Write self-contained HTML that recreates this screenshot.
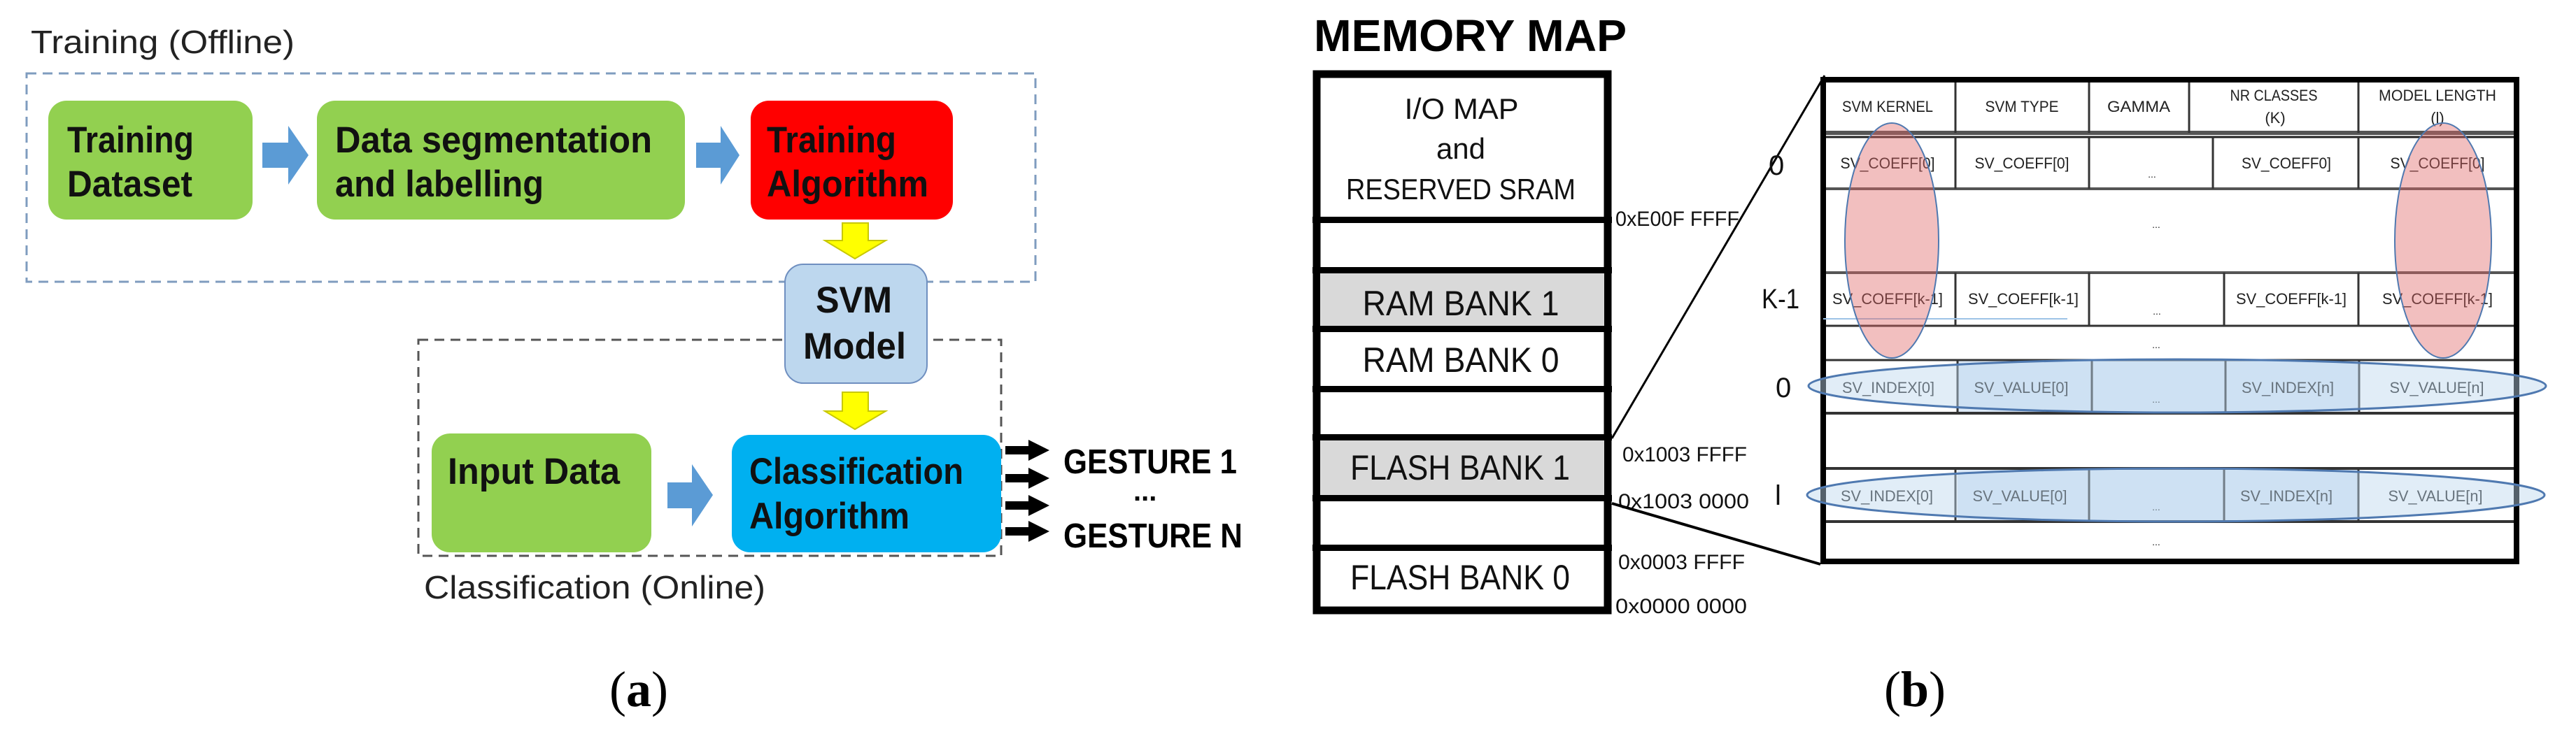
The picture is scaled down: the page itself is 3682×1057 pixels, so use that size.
<!DOCTYPE html>
<html><head><meta charset="utf-8"><style>
html,body{margin:0;padding:0;background:#fff;}
svg{display:block;}
text{font-family:"Liberation Sans Narrow","Liberation Sans",sans-serif;}
</style></head><body>
<svg width="3682" height="1057" viewBox="0 0 3682 1057" xmlns="http://www.w3.org/2000/svg">
<!-- ===== (a) ===== -->
<text x="44" y="76" font-size="46" fill="#222" textLength="377" lengthAdjust="spacingAndGlyphs">Training (Offline)</text>
<rect x="38" y="105" width="1442" height="298" fill="none" stroke="#7f9cbf" stroke-width="3" stroke-dasharray="14,9"/>
<rect x="598" y="486" width="833" height="309" fill="none" stroke="#555" stroke-width="3" stroke-dasharray="14,9"/>

<rect x="69" y="144" width="292" height="170" rx="26" fill="#92d050"/>
<text font-weight="bold" font-size="53" fill="#111"><tspan x="96" y="218" textLength="181" lengthAdjust="spacingAndGlyphs">Training</tspan></text>
<text x="96" y="281" font-weight="bold" font-size="53" fill="#111" textLength="179" lengthAdjust="spacingAndGlyphs">Dataset</text>

<polygon points="375,204 412,204 412,180 441,222 412,264 412,240 375,240" fill="#5b9bd5"/>
<rect x="453" y="144" width="526" height="170" rx="26" fill="#92d050"/>
<text x="479" y="218" font-weight="bold" font-size="53" fill="#111" textLength="453" lengthAdjust="spacingAndGlyphs">Data  segmentation</text>
<text x="479" y="281" font-weight="bold" font-size="53" fill="#111" textLength="298" lengthAdjust="spacingAndGlyphs">and labelling</text>

<polygon points="995,204 1030,204 1030,180 1057,222 1030,264 1030,240 995,240" fill="#5b9bd5"/>
<rect x="1073" y="144" width="289" height="170" rx="26" fill="#ff0000"/>
<text x="1096" y="218" font-weight="bold" font-size="53" fill="#111" textLength="185" lengthAdjust="spacingAndGlyphs">Training</text>
<text x="1096" y="281" font-weight="bold" font-size="53" fill="#111" textLength="231" lengthAdjust="spacingAndGlyphs">Algorithm</text>

<polygon points="1204,319 1241,319 1241,344 1266,344 1222,370 1179,344 1204,344" fill="#ffff00" stroke="#c8c800" stroke-width="2"/>
<rect x="1122" y="378" width="203" height="170" rx="26" fill="#bdd7ee" stroke="#6f8fc0" stroke-width="2"/>
<text x="1166" y="447" font-size="53" font-weight="bold" fill="#111" textLength="109" lengthAdjust="spacingAndGlyphs">SVM</text>
<text x="1148" y="513" font-size="53" font-weight="bold" fill="#111" textLength="147" lengthAdjust="spacingAndGlyphs">Model</text>
<polygon points="1204,561 1241,561 1241,588 1266,588 1222,614 1179,588 1204,588" fill="#ffff00" stroke="#c8c800" stroke-width="2"/>

<rect x="617" y="620" width="314" height="170" rx="26" fill="#92d050"/>
<text x="640" y="692" font-weight="bold" font-size="53" fill="#111" textLength="246" lengthAdjust="spacingAndGlyphs">Input Data</text>
<polygon points="954,690 989,690 989,664 1019,708 989,753 989,727 954,727" fill="#5b9bd5"/>
<rect x="1046" y="622" width="385" height="168" rx="26" fill="#00b0f0"/>
<text x="1071" y="692" font-weight="bold" font-size="53" fill="#111" textLength="306" lengthAdjust="spacingAndGlyphs">Classification</text>
<text x="1071" y="756" font-weight="bold" font-size="53" fill="#111" textLength="229" lengthAdjust="spacingAndGlyphs">Algorithm</text>

<g fill="#000">
<polygon points="1437,638 1470,638 1470,629 1500,644 1470,659 1470,650 1437,650"/>
<polygon points="1437,678 1470,678 1470,669 1500,684 1470,699 1470,690 1437,690"/>
<polygon points="1437,717 1470,717 1470,708 1500,723 1470,738 1470,729 1437,729"/>
<polygon points="1437,754 1470,754 1470,745 1500,760 1470,775 1470,766 1437,766"/>
</g>
<text x="1520" y="677" font-weight="bold" font-size="49" fill="#000" textLength="248" lengthAdjust="spacingAndGlyphs">GESTURE 1</text>
<text x="1620" y="716" font-weight="bold" font-size="40" fill="#000">...</text>
<text x="1520" y="783" font-weight="bold" font-size="49" fill="#000" textLength="256" lengthAdjust="spacingAndGlyphs">GESTURE N</text>
<text x="606" y="856" font-size="46" fill="#222" textLength="488" lengthAdjust="spacingAndGlyphs">Classification (Online)</text>
<text x="871" y="1010" font-size="72" style="font-family:'Liberation Serif',serif" fill="#000">(<tspan font-weight="bold">a</tspan>)</text>

<!-- ===== (b) ===== -->
<text x="1878" y="73" font-weight="bold" font-size="64" fill="#000" textLength="447" lengthAdjust="spacingAndGlyphs">MEMORY MAP</text>
<rect x="1882" y="106" width="416" height="767" fill="#fff" stroke="#000" stroke-width="11"/>
<rect x="1887" y="390" width="406" height="76" fill="#d9d9d9"/>
<rect x="1887" y="629" width="406" height="79" fill="#d9d9d9"/>
<g fill="#000">
<rect x="1876" y="310" width="428" height="9"/>
<rect x="1876" y="382" width="428" height="9"/>
<rect x="1876" y="466" width="428" height="9"/>
<rect x="1876" y="552" width="428" height="9"/>
<rect x="1876" y="621" width="428" height="9"/>
<rect x="1876" y="708" width="428" height="9"/>
<rect x="1876" y="779" width="428" height="9"/>
</g>
<g fill="#111" font-size="42" text-anchor="middle">
<text x="2089" y="170" textLength="163" lengthAdjust="spacingAndGlyphs">I/O MAP</text>
<text x="2088" y="227">and</text>
<text x="2088" y="285" textLength="328" lengthAdjust="spacingAndGlyphs">RESERVED SRAM</text>
</g>
<g fill="#111" font-size="50" text-anchor="middle">
<text x="2088" y="451" textLength="281" lengthAdjust="spacingAndGlyphs">RAM BANK 1</text>
<text x="2088" y="532" textLength="281" lengthAdjust="spacingAndGlyphs">RAM BANK 0</text>
<text x="2087" y="686" textLength="314" lengthAdjust="spacingAndGlyphs">FLASH BANK 1</text>
<text x="2087" y="843" textLength="314" lengthAdjust="spacingAndGlyphs">FLASH BANK 0</text>
</g>
<g fill="#111" font-size="30">
<text x="2309" y="323" textLength="177" lengthAdjust="spacingAndGlyphs">0xE00F FFFF</text>
<text x="2319" y="660" textLength="178" lengthAdjust="spacingAndGlyphs">0x1003 FFFF</text>
<text x="2313" y="727" textLength="187" lengthAdjust="spacingAndGlyphs">0x1003 0000</text>
<text x="2313" y="814" textLength="181" lengthAdjust="spacingAndGlyphs">0x0003 FFFF</text>
<text x="2309" y="877" textLength="188" lengthAdjust="spacingAndGlyphs">0x0000 0000</text>
</g>
<line x1="2304" y1="627" x2="2608" y2="108" stroke="#000" stroke-width="3"/>
<line x1="2304" y1="720" x2="2602" y2="807" stroke="#000" stroke-width="4"/>

<!-- table -->
<rect x="2798" y="515" width="574" height="76" fill="#dce9f7"/>
<rect x="2798" y="670" width="574" height="76" fill="#dce9f7"/>
<g stroke="#333" stroke-width="3">
<line x1="2606" y1="190" x2="3597" y2="190" stroke-width="6" stroke="#555"/>
<line x1="2606" y1="196" x2="3597" y2="196" stroke="#222"/>
<line x1="2606" y1="270" x2="3597" y2="270" stroke-width="4" stroke="#555"/>
<line x1="2606" y1="390" x2="3597" y2="390" stroke-width="4" stroke="#555"/>
<line x1="2606" y1="466" x2="3597" y2="466"/>
<line x1="2606" y1="515" x2="3597" y2="515"/>
<line x1="2606" y1="591" x2="3597" y2="591" stroke-width="4"/>
<line x1="2606" y1="670" x2="3597" y2="670" stroke-width="4"/>
<line x1="2606" y1="746" x2="3597" y2="746" stroke-width="4"/>
<line x1="2795" y1="114" x2="2795" y2="190"/><line x1="2986" y1="114" x2="2986" y2="190"/>
<line x1="3129" y1="114" x2="3129" y2="190"/><line x1="3371" y1="114" x2="3371" y2="190"/>
<line x1="2795" y1="196" x2="2795" y2="270"/><line x1="2986" y1="196" x2="2986" y2="270"/>
<line x1="3163" y1="196" x2="3163" y2="270"/><line x1="3371" y1="196" x2="3371" y2="270"/>
<line x1="2795" y1="390" x2="2795" y2="466"/><line x1="2986" y1="390" x2="2986" y2="466"/>
<line x1="3179" y1="390" x2="3179" y2="466"/><line x1="3371" y1="390" x2="3371" y2="466"/>
<line x1="2798" y1="515" x2="2798" y2="591"/><line x1="2990" y1="515" x2="2990" y2="591"/>
<line x1="3181" y1="515" x2="3181" y2="591"/><line x1="3372" y1="515" x2="3372" y2="591"/>
<line x1="2795" y1="670" x2="2795" y2="746"/><line x1="2986" y1="670" x2="2986" y2="746"/>
<line x1="3179" y1="670" x2="3179" y2="746"/><line x1="3371" y1="670" x2="3371" y2="746"/>
</g>
<rect x="2606" y="114" width="991" height="689" fill="none" stroke="#000" stroke-width="8"/>

<g fill="#222" font-size="22" text-anchor="middle">
<text x="2698" y="160" textLength="130" lengthAdjust="spacingAndGlyphs">SVM KERNEL</text>
<text x="2890" y="160" textLength="105" lengthAdjust="spacingAndGlyphs">SVM TYPE</text>
<text x="3057" y="160" textLength="90" lengthAdjust="spacingAndGlyphs">GAMMA</text>
<text x="3250" y="144" textLength="125" lengthAdjust="spacingAndGlyphs">NR CLASSES</text>
<text x="3252" y="176">(K)</text>
<text x="3484" y="144" textLength="168" lengthAdjust="spacingAndGlyphs">MODEL LENGTH</text>
<text x="3484" y="176">(l)</text>

<text x="2698" y="241" textLength="135" lengthAdjust="spacingAndGlyphs">SV_COEFF[0]</text>
<text x="2890" y="241" textLength="135" lengthAdjust="spacingAndGlyphs">SV_COEFF[0]</text>
<text x="3076" y="254" font-size="14">...</text>
<text x="3268" y="241" textLength="128" lengthAdjust="spacingAndGlyphs">SV_COEFF0]</text>
<text x="3484" y="241" textLength="135" lengthAdjust="spacingAndGlyphs">SV_COEFF[0]</text>
<text x="3082" y="326" font-size="14">...</text>

<text x="2698" y="435" textLength="158" lengthAdjust="spacingAndGlyphs">SV_COEFF[k-1]</text>
<text x="2892" y="435" textLength="158" lengthAdjust="spacingAndGlyphs">SV_COEFF[k-1]</text>
<text x="3083" y="450" font-size="14">...</text>
<text x="3275" y="435" textLength="158" lengthAdjust="spacingAndGlyphs">SV_COEFF[k-1]</text>
<text x="3484" y="435" textLength="158" lengthAdjust="spacingAndGlyphs">SV_COEFF[k-1]</text>
<text x="3082" y="498" font-size="14">...</text>

<text x="2699" y="562" textLength="132" lengthAdjust="spacingAndGlyphs">SV_INDEX[0]</text>
<text x="2889" y="562" textLength="135" lengthAdjust="spacingAndGlyphs">SV_VALUE[0]</text>
<text x="3082" y="576" font-size="14">...</text>
<text x="3270" y="562" textLength="132" lengthAdjust="spacingAndGlyphs">SV_INDEX[n]</text>
<text x="3483" y="562" textLength="135" lengthAdjust="spacingAndGlyphs">SV_VALUE[n]</text>

<text x="2697" y="717" textLength="132" lengthAdjust="spacingAndGlyphs">SV_INDEX[0]</text>
<text x="2887" y="717" textLength="135" lengthAdjust="spacingAndGlyphs">SV_VALUE[0]</text>
<text x="3082" y="730" font-size="14">...</text>
<text x="3268" y="717" textLength="132" lengthAdjust="spacingAndGlyphs">SV_INDEX[n]</text>
<text x="3481" y="717" textLength="135" lengthAdjust="spacingAndGlyphs">SV_VALUE[n]</text>
<text x="3082" y="780" font-size="14">...</text>
</g>

<line x1="2606" y1="456" x2="2955" y2="456" stroke="#9dc3e6" stroke-width="2"/>
<ellipse cx="2704" cy="344" rx="67" ry="168" fill="#e06666" fill-opacity="0.42" stroke="#4f79b0" stroke-width="2"/>
<ellipse cx="3492" cy="344" rx="69" ry="168" fill="#e06666" fill-opacity="0.42" stroke="#4f79b0" stroke-width="2"/>
<ellipse cx="3112" cy="552" rx="527" ry="38" fill="#bdd7ee" fill-opacity="0.45" stroke="#4f79b0" stroke-width="3"/>
<ellipse cx="3110" cy="708" rx="527" ry="38" fill="#bdd7ee" fill-opacity="0.45" stroke="#4f79b0" stroke-width="3"/>

<g fill="#111" font-size="40">
<text x="2528" y="250">0</text>
<text x="2518" y="441" textLength="54" lengthAdjust="spacingAndGlyphs">K-1</text>
<text x="2538" y="568">0</text>
<text x="2537" y="722">l</text>
</g>
<text x="2693" y="1010" font-size="72" style="font-family:'Liberation Serif',serif" fill="#000">(<tspan font-weight="bold">b</tspan>)</text>
</svg>
</body></html>
